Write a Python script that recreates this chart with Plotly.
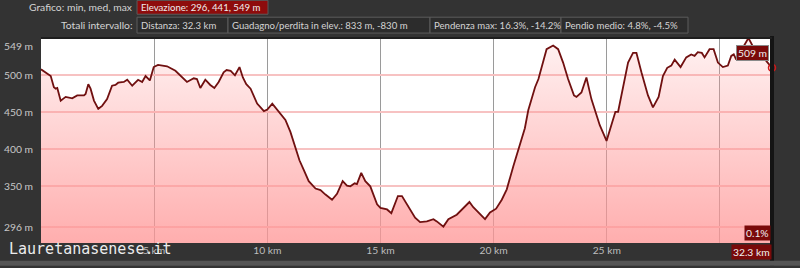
import plotly.graph_objects as go

# ---- data ----
km = [0.0, 0.28, 0.43, 0.57, 0.65, 0.72, 0.87, 1.09, 1.38, 1.60, 1.90, 1.97, 2.09, 2.19, 2.34,
      2.53, 2.70, 2.92, 3.14, 3.29, 3.41, 3.66, 3.81, 4.03, 4.29, 4.47, 4.62, 4.81, 4.98, 5.17,
      5.57, 5.94, 6.45, 6.75, 6.89, 7.04, 7.26, 7.48, 7.66, 7.85, 8.07, 8.20, 8.38, 8.57, 8.77,
      8.92, 9.07, 9.26, 9.55, 9.85, 10.0, 10.22, 10.51, 10.80, 11.02, 11.24, 11.42, 11.61, 11.83,
      12.13, 12.35, 12.57, 12.86, 13.08, 13.33, 13.52, 13.67, 13.86, 13.96, 14.15, 14.33, 14.55,
      14.85, 15.0, 15.29, 15.48, 15.62, 15.77, 15.95, 16.17, 16.35, 16.53, 16.75, 17.05, 17.34,
      17.49, 17.78, 18.0, 18.37, 18.66, 18.93, 19.10, 19.40, 19.62, 19.84, 20.11, 20.36, 20.58,
      20.87, 21.16, 21.38, 21.53, 21.83, 21.98, 22.19, 22.34, 22.63, 22.85, 23.07, 23.29, 23.55,
      23.66, 23.88, 24.10, 24.32, 24.55, 24.69, 24.99, 25.21, 25.38, 25.50, 25.72, 25.94, 26.16,
      26.31, 26.53, 26.82, 27.04, 27.29, 27.48, 27.67, 27.85, 28.0, 28.26, 28.51, 28.73, 28.88,
      29.02, 29.2, 29.32, 29.54, 29.72, 29.91, 30.13, 30.35, 30.5, 30.61, 30.72, 30.86, 31.05,
      31.26, 31.45, 31.7, 32.0, 32.3]
elev = [507, 501, 498, 483, 481, 482, 465, 470, 468, 472, 472, 474, 487, 481, 465,
        454, 458, 467, 485, 486, 489, 490, 493, 485, 493, 490, 498, 492, 510, 513,
        511, 505, 490, 495, 494, 482, 493, 486, 482, 490, 503, 506, 505, 499, 510,
        496, 487, 481, 461, 451, 453, 461, 450, 439, 423, 401, 385, 372, 357,
        347, 345, 339, 332, 340, 357, 351, 350, 354, 353, 368, 357, 350,
        326, 321, 319, 314, 326, 337, 337, 326, 316, 308, 302, 303, 306,
        303, 296, 306, 312, 321, 329, 322, 312, 306, 315, 320, 332, 346,
        377, 405, 428, 452, 483, 494, 518, 534, 539, 534, 516, 494, 472,
        470, 476, 496, 467, 443, 432, 411, 432, 450, 450, 485, 516, 529,
        529, 503, 472, 456, 470, 498, 509, 512, 520, 510, 523, 527, 525,
        530, 529, 523, 534, 534, 516, 510, 512, 525, 527, 520, 537, 538,
        549, 538, 532, 520, 509]

x_ticks = [5, 10, 15, 20, 25, 30]
x_tick_labels = ["5 km", "10 km", "15 km", "20 km", "25 km", ""]
y_ticks = [296, 350, 400, 450, 500, 549]
y_tick_labels = ["296 m", "350 m", "400 m", "450 m", "500 m", "549 m"]

row1_label = "Grafico: min, med, max"
row1_box = "Elevazione: 296, 441, 549 m"
row2_label = "Totali intervallo:"
row2_boxes = ["Distanza: 32.3 km", "Guadagno/perdita in elev.: 833 m, -830 m",
              "Pendenza max: 16.3%, -14.2%", "Pendio medio: 4.8%, -4.5%"]
end_grade = "0.1%"
end_dist = "32.3 km"
watermark = "Lauretanasenese.it"

# ---- layout geometry (pixels) ----
W, H = 800, 268
L, R, T, B = 41, 28, 38, 23
PW, PH = W - L - R, H - T - B


def px(xp):
    return (xp - L) / PW


def py(yp):
    return (H - B - yp) / PH


FONT = "Lato, sans-serif"
FS = 10.3
FS_BOX = 9.6
TXT = "#d4d4d4"

fig = go.Figure()
fig.add_trace(go.Scatter(
    x=km, y=elev, mode="lines",
    line=dict(color="#701010", width=1.8),
    fill="tozeroy",
    fillgradient=dict(type="vertical", start=274, stop=549,
                      colorscale=[[0, "rgba(255,150,150,0.78)"], [1, "rgba(255,150,150,0.12)"]]),
    hoverinfo="skip",
))
fig.add_trace(go.Scatter(
    x=[km[-1]], y=[elev[-1]], mode="markers",
    marker=dict(symbol="circle-open", size=7, color="#d01818", line=dict(width=1.5)),
    cliponaxis=False, hoverinfo="skip",
))

shapes = []
annotations = []

# header row 1
annotations.append(dict(x=px(135), y=py(7), xref="paper", yref="paper", text=row1_label,
                        showarrow=False, xanchor="right", yanchor="middle",
                        font=dict(family=FONT, size=FS, color=TXT)))
shapes.append(dict(type="rect", xref="paper", yref="paper", x0=px(137), x1=px(268), y0=py(14), y1=py(0),
                   fillcolor="#8e0c0c", line=dict(color="#5a5a5a", width=1), layer="above"))
annotations.append(dict(x=px(139), y=py(7), xref="paper", yref="paper", text=row1_box,
                        showarrow=False, xanchor="left", yanchor="middle",
                        font=dict(family=FONT, size=FS_BOX, color="#eeeeee")))
# header row 2
annotations.append(dict(x=px(135), y=py(25), xref="paper", yref="paper", text=row2_label,
                        showarrow=False, xanchor="right", yanchor="middle",
                        font=dict(family=FONT, size=FS, color=TXT)))
edges = [137, 228, 430, 561, 688]
for i, t in enumerate(row2_boxes):
    shapes.append(dict(type="rect", xref="paper", yref="paper", x0=px(edges[i]), x1=px(edges[i + 1]),
                       y0=py(33), y1=py(17), fillcolor="#2c2c2c", line=dict(color="#5c5c5c", width=1),
                       layer="above"))
    annotations.append(dict(x=px(edges[i] + 2), y=py(25), xref="paper", yref="paper", text=t,
                            showarrow=False, xanchor="left", yanchor="middle",
                            font=dict(family=FONT, size=FS_BOX, color=TXT)))

# y labels
for v, t in zip(y_ticks, y_tick_labels):
    annotations.append(dict(x=px(2), y=v, xref="paper", yref="y", text=t, showarrow=False,
                            xanchor="left", yanchor="middle", yshift=(-8 if v == max(y_ticks) else 0),
                            font=dict(family=FONT, size=FS, color="#c8c8c8")))

# plot border lines
shapes.append(dict(type="line", xref="paper", yref="paper", x0=1, x1=1, y0=py(268), y1=py(36),
                   line=dict(color="#141414", width=4), layer="above"))
shapes.append(dict(type="line", xref="paper", yref="paper", x0=0, x1=1, y0=1, y1=1,
                   line=dict(color="#1e1e1e", width=2), layer="above"))
shapes.append(dict(type="rect", xref="paper", yref="paper", x0=px(0), x1=px(800), y0=py(268), y1=py(263),
                   fillcolor="#555555", line=dict(width=0), layer="above"))

# end labels
annotations.append(dict(x=km[-1], y=elev[-1], xref="x", yref="y", text=f"{elev[-1]} m", showarrow=False,
                        xanchor="right", yanchor="bottom", xshift=-3, yshift=7,
                        bgcolor="#7a0a0a", bordercolor="#8a8a8a", borderwidth=1, borderpad=1,
                        font=dict(family=FONT, size=FS, color="#f0f0f0")))
annotations.append(dict(x=1, y=0, xref="paper", yref="paper", text=end_grade, showarrow=False,
                        xanchor="right", yanchor="bottom", xshift=-1, yshift=2,
                        bgcolor="#7a0a0a", borderpad=1,
                        font=dict(family=FONT, size=FS, color="#f0f0f0")))
annotations.append(dict(x=1, y=0, xref="paper", yref="paper", text=end_dist, showarrow=False,
                        xanchor="right", yanchor="top", yshift=-1,
                        bgcolor="#7a0a0a", borderpad=1,
                        font=dict(family=FONT, size=FS, color="#f0f0f0")))
# watermark
annotations.append(dict(x=px(7), y=py(251), xref="paper", yref="paper", text=watermark, showarrow=False,
                        xanchor="left", yanchor="middle",
                        font=dict(family="DejaVu Sans Mono, monospace", size=15, color="#ececec")))

fig.update_layout(
    width=W, height=H,
    margin=dict(l=L, r=R, t=T, b=B),
    paper_bgcolor="#333333", plot_bgcolor="#ffffff",
    showlegend=False,
    shapes=shapes, annotations=annotations,
    xaxis=dict(range=[0, 32.3], tickvals=x_ticks, ticktext=x_tick_labels, showgrid=True,
               gridcolor="#9a9a9a", gridwidth=1, zeroline=False, showline=False, ticks="",
               tickfont=dict(family=FONT, size=FS, color="#bdbdbd"), fixedrange=True),
    yaxis=dict(range=[274, 549], tickvals=y_ticks, showticklabels=False, showgrid=True,
               gridcolor="#f7c2c2", gridwidth=2, zeroline=False, showline=False, ticks="",
               fixedrange=True),
)

fig.write_html("out.html")
